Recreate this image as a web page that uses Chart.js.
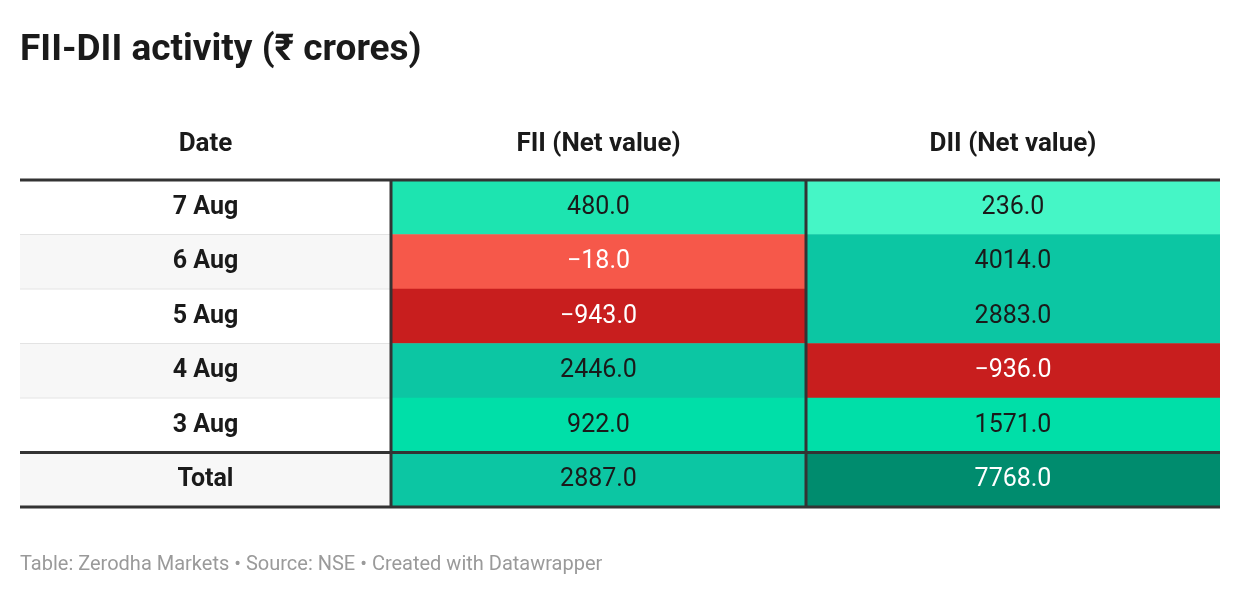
<!DOCTYPE html>
<html><head><meta charset="utf-8">
<script src="https://cdn.jsdelivr.net/npm/chart.js@4"></script>
<style>html,body{margin:0;background:#fff}#wrap{width:1240px;height:596px}</style>
</head><body><div id="wrap"><canvas id="tbl"></canvas></div>
<script>
let rows = ["7 Aug", "6 Aug", "5 Aug", "4 Aug", "3 Aug", "Total"];
let fii = [480, -18, -943, 2446, 922, 2887];
let dii = [236, 4014, 2883, -936, 1571, 7768];
let headers = ["Date", "FII (Net value)", "DII (Net value)"];

// cell colours, same order as rows
let fiiColors = ["#1de4b0", "#f6584a", "#c81e1e", "#0cc6a3", "#00dfa8", "#0cc6a3"];
let diiColors = ["#45f6c6", "#0cc6a3", "#0cc6a3", "#c81e1e", "#00dfa8", "#008c6e"];
let darkCells = ["#f6584a", "#c81e1e", "#008c6e"];

// column edges in table units (table is 1200 wide)
let cols = [[0, 371], [371, 786], [786, 1200]];

function fmt(v) { return (v < 0 ? "\u2212" : "") + Math.abs(v).toFixed(1); }

let tablePlugin = {
  id: 'tableText',
  afterDatasetsDraw(chart) {
    let c = chart.ctx, xs = chart.scales.x, ys = chart.scales.y, a = chart.chartArea;
    c.save();
    c.fillStyle = "#1a1a1a";
    c.font = "bold 37px Roboto";
    c.textBaseline = "alphabetic";
    c.textAlign = "left";
    c.fillText("FII-DII activity (\u20b9 crores)", 20, 60);
    c.font = "20px Roboto";
    c.fillStyle = "#9a9a9a";
    c.fillText("Table: Zerodha Markets \u2022 Source: NSE \u2022 Created with Datawrapper", 20, 570);

    c.textAlign = "center";
    c.textBaseline = "middle";
    c.font = "bold 26px Roboto";
    c.fillStyle = "#1a1a1a";
    headers.forEach((h, j) => c.fillText(h, xs.getPixelForValue((cols[j][0] + cols[j][1]) / 2), 144));

    let rowH = (a.bottom - a.top) / rows.length;
    // thin row separators
    c.strokeStyle = "#e3e3e3"; c.lineWidth = 1;
    for (let i = 1; i < rows.length - 1; i++) {
      let y = a.top + rowH * i;
      c.beginPath(); c.moveTo(a.left, y); c.lineTo(xs.getPixelForValue(cols[0][1]), y); c.stroke();
    }
    rows.forEach((r, i) => {
      let y = ys.getPixelForValue(i);
      c.font = "bold 25px Roboto"; c.fillStyle = "#1a1a1a";
      c.fillText(r, xs.getPixelForValue((cols[0][0] + cols[0][1]) / 2), y);
      c.font = "25px Roboto";
      c.fillStyle = darkCells.includes(fiiColors[i]) ? "#fff" : "#1a1a1a";
      c.fillText(fmt(fii[i]), xs.getPixelForValue((cols[1][0] + cols[1][1]) / 2), y);
      c.fillStyle = darkCells.includes(diiColors[i]) ? "#fff" : "#1a1a1a";
      c.fillText(fmt(dii[i]), xs.getPixelForValue((cols[2][0] + cols[2][1]) / 2), y);
    });
    // thick lines
    c.strokeStyle = "#333"; c.lineWidth = 3;
    [a.top, a.top + rowH * (rows.length - 1), a.bottom].forEach(y => {
      c.beginPath(); c.moveTo(a.left, y); c.lineTo(a.right, y); c.stroke();
    });
    [cols[1][0], cols[2][0]].forEach(v => {
      let x = xs.getPixelForValue(v);
      c.beginPath(); c.moveTo(x, a.top); c.lineTo(x, a.bottom); c.stroke();
    });
    c.restore();
  }
};

new Chart(document.getElementById('tbl'), {
  type: 'bar',
  data: {
    labels: rows,
    datasets: [
      { data: rows.map(() => cols[0]), backgroundColor: rows.map((r, i) => i % 2 ? "#f7f7f7" : "#ffffff") },
      { data: rows.map(() => cols[1]), backgroundColor: fiiColors },
      { data: rows.map(() => cols[2]), backgroundColor: diiColors }
    ]
  },
  options: {
    indexAxis: 'y',
    responsive: true,
    maintainAspectRatio: false,
    animation: false,
    layout: { padding: { left: 20, right: 20, top: 180, bottom: 89 } },
    datasets: { bar: { barPercentage: 1, categoryPercentage: 1, grouped: false, borderWidth: 0, borderSkipped: false } },
    plugins: { legend: { display: false }, tooltip: { enabled: false } },
    scales: {
      x: { display: false, min: 0, max: 1200 },
      y: { display: false }
    }
  },
  plugins: [tablePlugin]
});
</script></body></html>
